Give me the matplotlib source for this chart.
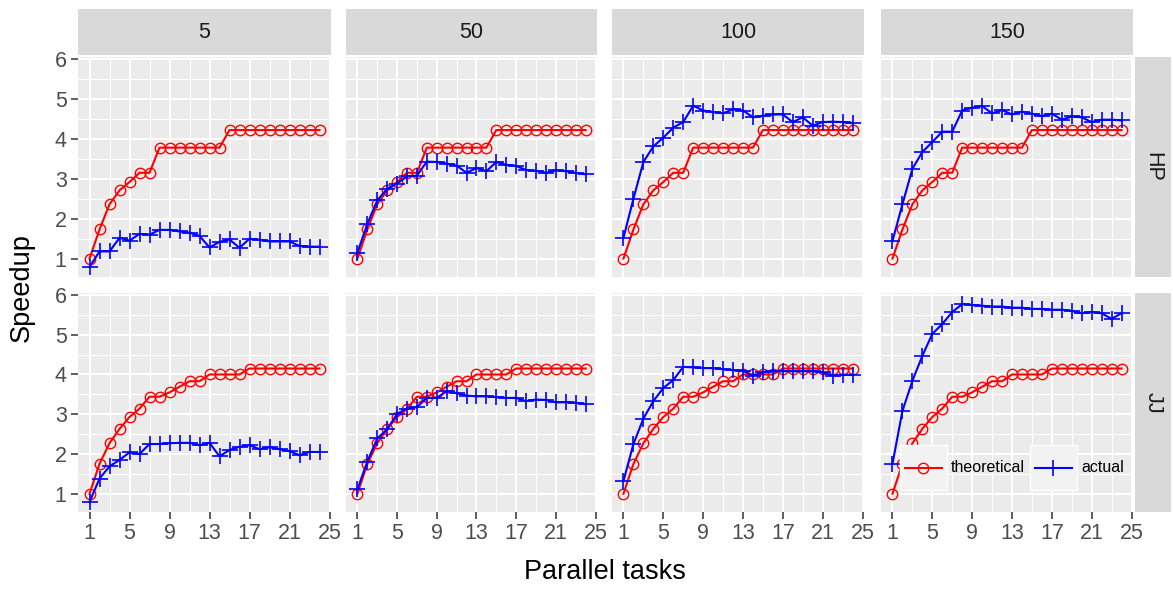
import matplotlib
matplotlib.use("Agg")
import matplotlib.pyplot as plt
from matplotlib.patches import Rectangle
from matplotlib.lines import Line2D
from matplotlib.ticker import MultipleLocator, FixedLocator

plt.rcParams['font.family'] = ['Liberation Sans', 'DejaVu Sans']

# ---------------- data ----------------
tasks = list(range(1, 25))
col_labels = ["5", "50", "100", "150"]
row_labels = ["HP", "JJ"]
x_ticks = [1, 5, 9, 13, 17, 21, 25]
y_ticks = [1, 2, 3, 4, 5, 6]

theo_HP = [1.00, 1.73, 2.36, 2.71, 2.92, 3.15, 3.15, 3.78, 3.78, 3.78, 3.78, 3.78,
           3.78, 3.78, 4.22, 4.22, 4.22, 4.22, 4.22, 4.22, 4.22, 4.22, 4.22, 4.22]
theo_JJ = [1.00, 1.75, 2.27, 2.63, 2.93, 3.14, 3.44, 3.44, 3.55, 3.69, 3.83, 3.83,
           4.00, 4.00, 4.00, 4.00, 4.15, 4.15, 4.15, 4.15, 4.15, 4.15, 4.15, 4.15]

actual_HP_5 = [0.79, 1.18, 1.18, 1.52, 1.45, 1.62, 1.60, 1.72, 1.72, 1.68, 1.65, 1.57,
               1.28, 1.42, 1.48, 1.27, 1.50, 1.47, 1.43, 1.43, 1.43, 1.32, 1.30, 1.30]
actual_HP_50 = [1.15, 1.87, 2.46, 2.75, 2.88, 3.06, 3.08, 3.43, 3.42, 3.38, 3.33, 3.15,
                3.27, 3.19, 3.42, 3.35, 3.32, 3.22, 3.20, 3.15, 3.21, 3.19, 3.15, 3.11]
actual_HP_100 = [1.52, 2.50, 3.42, 3.81, 4.03, 4.28, 4.42, 4.83, 4.71, 4.67, 4.64, 4.74,
                 4.71, 4.54, 4.58, 4.61, 4.61, 4.42, 4.54, 4.33, 4.42, 4.43, 4.42, 4.39]
actual_HP_150 = [1.44, 2.36, 3.25, 3.67, 3.92, 4.18, 4.18, 4.71, 4.78, 4.82, 4.64, 4.72,
                 4.61, 4.68, 4.63, 4.57, 4.63, 4.48, 4.56, 4.54, 4.42, 4.48, 4.48, 4.46]
actual_JJ_5 = [0.79, 1.38, 1.69, 1.85, 2.04, 2.00, 2.25, 2.25, 2.27, 2.28, 2.28, 2.22,
               2.28, 1.94, 2.10, 2.18, 2.22, 2.12, 2.17, 2.12, 2.07, 1.97, 2.05, 2.05]
actual_JJ_50 = [1.11, 1.81, 2.39, 2.62, 3.01, 3.14, 3.18, 3.41, 3.41, 3.58, 3.53, 3.47,
                3.45, 3.45, 3.43, 3.41, 3.41, 3.33, 3.37, 3.36, 3.30, 3.30, 3.29, 3.25]
actual_JJ_100 = [1.32, 2.25, 2.89, 3.33, 3.66, 3.86, 4.19, 4.18, 4.16, 4.16, 4.13, 4.11,
                 4.09, 3.97, 4.05, 4.08, 4.08, 4.08, 4.08, 4.08, 4.05, 3.97, 3.99, 3.99]
actual_JJ_150 = [1.75, 3.08, 3.84, 4.47, 5.02, 5.27, 5.57, 5.77, 5.75, 5.73, 5.71, 5.71,
                 5.68, 5.68, 5.65, 5.65, 5.63, 5.63, 5.60, 5.54, 5.57, 5.54, 5.40, 5.54]

theoretical = {"HP": theo_HP, "JJ": theo_JJ}
actual = {
    ("HP", "5"): actual_HP_5, ("HP", "50"): actual_HP_50,
    ("HP", "100"): actual_HP_100, ("HP", "150"): actual_HP_150,
    ("JJ", "5"): actual_JJ_5, ("JJ", "50"): actual_JJ_50,
    ("JJ", "100"): actual_JJ_100, ("JJ", "150"): actual_JJ_150,
}

# ---------------- style ----------------
W, H = 1173, 589
RED = "#FF0000"
BLUE = "#0000FF"
PANEL_BG = "#EBEBEB"
STRIP_BG = "#D9D9D9"
TICK_COL = "#4D4D4D"
tick_fs = 15.5
strip_fs = 15.5
title_fs = 19.5

fig = plt.figure(figsize=(W / 100, H / 100), dpi=100)
fig.patch.set_facecolor("white")

cols_px = [(78, 331), (346, 597), (612, 864), (881, 1133)]
rows_px = [(57, 277), (293, 512)]


def fig_rect(x0, x1, y0, y1):
    return [x0 / W, 1 - y1 / H, (x1 - x0) / W, (y1 - y0) / H]


XLIM = (-0.15, 25.15)
YLIM = (0.54, 6.05)

for ri, rlab in enumerate(row_labels):
    for ci, clab in enumerate(col_labels):
        x0, x1 = cols_px[ci]
        y0, y1 = rows_px[ri]
        ax = fig.add_axes(fig_rect(x0, x1, y0, y1))
        ax.set_facecolor(PANEL_BG)
        for s in ax.spines.values():
            s.set_visible(False)
        ax.set_xlim(*XLIM)
        ax.set_ylim(*YLIM)
        ax.xaxis.set_major_locator(FixedLocator(x_ticks))
        ax.xaxis.set_minor_locator(FixedLocator([3, 7, 11, 15, 19, 23]))
        ax.yaxis.set_major_locator(MultipleLocator(1))
        ax.yaxis.set_minor_locator(FixedLocator([1.5, 2.5, 3.5, 4.5, 5.5]))
        ax.grid(which="major", color="white", lw=1.5, zorder=0)
        ax.grid(which="minor", color="white", lw=0.75, zorder=0)
        ax.set_axisbelow(True)
        ax.tick_params(which="minor", length=0)
        ax.tick_params(which="major", length=5.0, width=1.1, color="#333333",
                       labelsize=tick_fs, labelcolor=TICK_COL, pad=3.2)
        if ci != 0:
            ax.tick_params(axis="y", which="major", length=0, labelleft=False)
        else:
            ax.set_yticks(y_ticks)
            ax.set_yticklabels([str(v) for v in y_ticks])
        if ri != len(row_labels) - 1:
            ax.tick_params(axis="x", which="major", length=0, labelbottom=False)
        else:
            ax.set_xticklabels([str(v) for v in x_ticks])

        ax.plot(tasks, theoretical[rlab], color=RED, lw=1.5, marker="o",
                markersize=7.5, markerfacecolor="none", markeredgecolor=RED,
                markeredgewidth=1.0, zorder=3)
        ax.plot(tasks, actual[(rlab, clab)], color=BLUE, lw=1.5, marker="+",
                markersize=12, markeredgewidth=1.2, zorder=4)

        # top strips
        if ri == 0:
            sax = fig.add_axes(fig_rect(x0, x1, 9, 55))
            sax.set_facecolor(STRIP_BG)
            sax.set_xticks([]); sax.set_yticks([])
            for s in sax.spines.values():
                s.set_visible(False)
            sax.text(0.5, 0.5, clab, ha="center", va="center",
                     fontsize=strip_fs, color="#1A1A1A", transform=sax.transAxes)
        # right strips
        if ci == len(col_labels) - 1:
            rax = fig.add_axes(fig_rect(1135, 1171, y0, y1))
            rax.set_facecolor(STRIP_BG)
            rax.set_xticks([]); rax.set_yticks([])
            for s in rax.spines.values():
                s.set_visible(False)
            rax.text(0.5, 0.5, rlab, ha="center", va="center", rotation=-90,
                     fontsize=strip_fs, color="#1A1A1A", transform=rax.transAxes)

        # legend inside the last panel
        if ri == 1 and ci == 3:
            keys = [(0.075, "theoretical", RED, "o"), (0.591, "actual", BLUE, "+")]
            kw = 0.187
            kb, kh = 0.100, 0.206
            for kx, lab, colr, mk in keys:
                ax.add_patch(Rectangle((kx, kb), kw, kh, transform=ax.transAxes,
                                       facecolor="#F2F2F2", edgecolor="white",
                                       lw=1.0, zorder=10))
                ln = Line2D([kx + 0.02, kx + kw - 0.02], [kb + kh / 2] * 2,
                            transform=ax.transAxes, color=colr, lw=1.5, zorder=11)
                ax.add_line(ln)
                if mk == "o":
                    mline = Line2D([kx + kw / 2], [kb + kh / 2], transform=ax.transAxes,
                                   marker="o", markersize=7.5, markerfacecolor="none",
                                   markeredgecolor=colr, markeredgewidth=1.0, zorder=12)
                else:
                    mline = Line2D([kx + kw / 2], [kb + kh / 2], transform=ax.transAxes,
                                   marker="+", markersize=12, markeredgecolor=colr,
                                   markeredgewidth=1.2, zorder=12)
                ax.add_line(mline)
                ax.text(kx + kw + 0.016, kb + kh / 2, lab, transform=ax.transAxes,
                        ha="left", va="center", fontsize=11.5, color="black", zorder=12)

fig.text(22 / W, 1 - 288 / H, "Speedup", rotation=90, ha="center", va="center",
         fontsize=title_fs, color="black")
fig.text(605 / W, 1 - 572 / H, "Parallel tasks", ha="center", va="center",
         fontsize=title_fs, color="black")

fig.savefig("out.png", dpi=100, facecolor="white")
